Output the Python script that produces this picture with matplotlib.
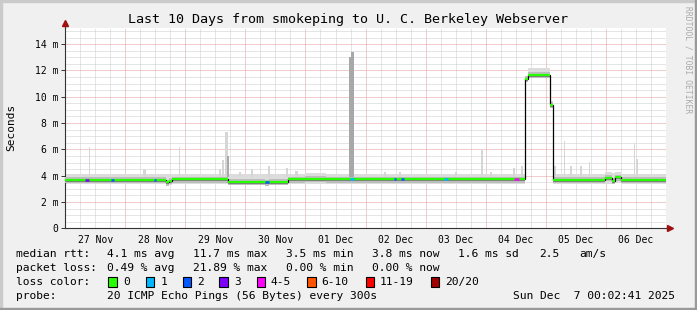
import matplotlib
matplotlib.use('Agg')
import matplotlib.pyplot as plt
from matplotlib.patches import Rectangle
import numpy as np

W, H = 697, 310

# time axis: days since 27 Nov 00:00, values in ms
seg_edges = [0.0, 1.68, 1.73, 1.78, 2.71, 3.32, 3.39, 3.71, 3.99, 4.34,
             7.66, 7.71, 8.07, 8.12, 8.98, 9.10, 9.16, 9.26, 10.01]
median_ms = [3.70, 3.50, 3.60, 3.72, 3.55, 3.50, 3.52, 3.72, 3.77, 3.72,
             11.35, 11.66, 9.40, 3.68, 3.82, 3.62, 3.88, 3.70]
smoke_lo = [3.35, 3.30, 3.30, 3.35, 3.30, 3.28, 3.28, 3.35, 3.40, 3.35,
            11.15, 11.40, 9.25, 3.33, 3.40, 3.35, 3.45, 3.33]
smoke_hi = [4.15, 4.10, 4.10, 4.15, 4.10, 4.10, 4.10, 4.15, 4.20, 4.15,
            11.60, 12.17, 9.65, 4.15, 4.25, 4.20, 4.30, 4.15]

# single-step outliers in the smoke
spike_day = [0.403, 1.326, 1.900, 2.574, 2.632, 2.690, 2.707, 2.908, 3.106,
             3.389, 3.689, 3.855, 4.740, 4.782, 5.319, 5.569, 6.513, 6.945,
             7.095, 7.471, 7.599, 8.160, 8.315, 8.426, 8.592, 8.730, 9.479, 9.517]
spike_width = [0.025, 0.05, 0.025, 0.033, 0.033, 0.05, 0.033, 0.033, 0.033,
               0.033, 0.033, 0.05, 0.042, 0.042, 0.033, 0.033, 0.033, 0.033,
               0.033, 0.025, 0.033, 0.033, 0.025, 0.033, 0.033, 0.025, 0.025, 0.033]
spike_top = [6.16, 4.5, 6.2, 4.5, 5.2, 7.35, 5.5, 4.3, 4.5,
             4.75, 4.6, 4.35, 13.05, 13.43, 4.3, 4.3, 4.3, 6.0,
             4.3, 4.6, 4.7, 4.74, 6.64, 4.7, 4.74, 5.07, 6.46, 5.3]
spike_dark = [0, 0, 0, 0, 0, 0, 1, 0, 0,
              0, 0, 0, 1, 1, 0, 0, 0, 0,
              0, 0, 0, 0, 0, 0, 0, 0, 0, 0]

# median samples with packet loss
loss_start = [0.328, 0.760, 1.476, 3.334, 4.737, 5.469, 5.586, 6.301, 7.466]
loss_end = [0.394, 0.810, 1.517, 3.389, 4.804, 5.502, 5.636, 6.368, 7.549]
loss_class = [3, 2, 2, 2, 1, 2, 2, 1, 4]

loss_labels = ['0', '1', '2', '3', '4-5', '6-10', '11-19', '20/20']
loss_colors = ['#26ff00', '#00b8ff', '#0059ff', '#7e00ff', '#ff00ff',
               '#ff5500', '#ff0000', '#a10000']

day_labels = ['27 Nov', '28 Nov', '29 Nov', '30 Nov', '01 Dec',
              '02 Dec', '03 Dec', '04 Dec', '05 Dec', '06 Dec']
y_ticks = [0, 2, 4, 6, 8, 10, 12, 14]
y_labels = ['0', '2 m', '4 m', '6 m', '8 m', '10 m', '12 m', '14 m']

rtt_line = ['median rtt:', '4.1 ms avg', '11.7 ms max', '3.5 ms min',
            '3.8 ms now', '1.6 ms sd', '2.5', 'am/s']
loss_line = ['packet loss:', '0.49 % avg', '21.89 % max', '0.00 % min',
             '0.00 % now']

plt.rcParams['font.family'] = ['DejaVu Sans Mono']

fig = plt.figure(figsize=(W / 100, H / 100), dpi=100, facecolor='#F0F0F0')

# overlay in pixel coordinates for legend and frame
ov = fig.add_axes([0, 0, 1, 1], zorder=0)
ov.set_xlim(0, W)
ov.set_ylim(H, 0)
ov.axis('off')
ov.add_patch(Rectangle((0, 0), W, 2, color='#CBCBCB'))
ov.add_patch(Rectangle((0, 0), 2, H, color='#CBCBCB'))
ov.add_patch(Rectangle((0, H - 2), W, 2, color='#999999'))
ov.add_patch(Rectangle((W - 2, 0), 2, H, color='#999999'))

ov.text(348, 19, 'Last 10 Days from smokeping to U. C. Berkeley Webserver',
        ha='center', va='center', fontsize=9.6)
ov.text(11, 127, 'Seconds', rotation=90, ha='center', va='center', fontsize=8)
ov.text(688, 60, 'RRDTOOL / TOBI OETIKER', rotation=270, ha='center',
        va='center', fontsize=5.8, color='#AAAAAA')

fs = 8.1
for txt, x in zip(rtt_line, [16, 107, 193, 286, 372.3, 458.3, 539, 579.3]):
    ov.text(x, 254.3, txt, va='center', fontsize=fs)
for txt, x in zip(loss_line, [16, 107, 193, 286, 372.3]):
    ov.text(x, 268.3, txt, va='center', fontsize=fs)
ov.text(16, 281.7, 'loss color:', va='center', fontsize=fs)
box_x = [108.3, 145.7, 182.7, 219.3, 256.7, 307.3, 365.7, 430.7]
lab_x = [123, 160.7, 197.3, 234, 270.7, 321.7, 380, 445]
for lab, col, bx, lx in zip(loss_labels, loss_colors, box_x, lab_x):
    ov.add_patch(Rectangle((bx, 276.5), 8.5, 10, facecolor=col,
                           edgecolor='black', lw=0.8))
    ov.text(lx, 281.7, lab, va='center', fontsize=fs)
ov.text(16, 296, 'probe:', va='center', fontsize=fs)
ov.text(107, 296, '20 ICMP Echo Pings (56 Bytes) every 300s', va='center', fontsize=fs)
ov.text(513.3, 296, 'Sun Dec  7 00:02:41 2025', va='center', fontsize=fs)

# main graph
ax = fig.add_axes([65.3 / W, (H - 228.3) / H, (666 - 65.3) / W, 200 / H], zorder=1)
ax.set_facecolor('white')
ax.set_xlim(0.0019, 10.0019)
ax.set_ylim(0, 15.2)

dot = (0, (1, 1))
for d in np.arange(0.25, 10, 0.25):
    if d % 1 == 0:
        ax.axvline(d, color='#E39A9A', lw=0.72, ls=dot, zorder=0)
    else:
        ax.axvline(d, color='#CCCCCC', lw=0.72, ls=dot, zorder=0)
for v in np.arange(0.5, 15.2, 0.5):
    if v % 2 == 0:
        ax.axhline(v, color='#E39A9A', lw=0.72, ls=dot, zorder=0)
    else:
        ax.axhline(v, color='#CCCCCC', lw=0.72, ls=dot, zorder=0)

edges = np.array(seg_edges)
med = np.array(median_ms)
ax.stairs(smoke_hi, edges, baseline=smoke_lo, fill=True, color='#DCDCDC', zorder=1)
light = [i for i in range(len(spike_day)) if not spike_dark[i]]
dark = [i for i in range(len(spike_day)) if spike_dark[i]]
ax.bar([spike_day[i] for i in light], [spike_top[i] - 3.9 for i in light],
       width=[spike_width[i] for i in light], bottom=3.9, color='#D6D6D6', zorder=2)
ax.stairs(med + 0.2, edges, baseline=med - 0.25, fill=True, color='#BDBDBD', zorder=3)
ax.bar([spike_day[i] for i in dark], [spike_top[i] - 3.9 for i in dark],
       width=[spike_width[i] for i in dark], bottom=3.9, color='#A8A8A8', zorder=3)
ax.stairs(med + 0.05, edges, baseline=med - 0.15, fill=True, color='#8E8E8E', zorder=4)

ax.stairs(med, edges, baseline=None, color='black', lw=0.9, zorder=5)
ax.hlines(med, edges[:-1], edges[1:], color=loss_colors[0], lw=1.6, zorder=6)
for s, e, c in zip(loss_start, loss_end, loss_class):
    i = np.searchsorted(edges, (s + e) / 2) - 1
    ax.hlines(med[i], s, e, color=loss_colors[c], lw=1.8, zorder=7)

for sp in ['top', 'right']:
    ax.spines[sp].set_visible(False)
for sp in ['left', 'bottom']:
    ax.spines[sp].set_color('#333333')
    ax.spines[sp].set_linewidth(0.8)
ax.plot([0, 0], [1, 1.025], transform=ax.transAxes, color='#333333', lw=0.8,
        clip_on=False)
ax.plot([0], [1.028], marker='^', ms=4.5, color='#A01010', transform=ax.transAxes,
        clip_on=False)
ax.plot([1, 1.003], [0, 0], transform=ax.transAxes, color='#333333', lw=0.8,
        clip_on=False)
ax.plot([1.007], [0], marker='>', ms=4.5, color='#A01010', transform=ax.transAxes,
        clip_on=False)

ax.set_yticks(y_ticks, y_labels)
ax.tick_params(axis='y', length=3, width=0.7, color='#333333', pad=2, labelsize=7)
ax.set_xticks(np.arange(10) + 0.5, day_labels)
ax.tick_params(axis='x', length=0, pad=5, labelsize=7)

fig.savefig('out.png', dpi=100, facecolor=fig.get_facecolor())
